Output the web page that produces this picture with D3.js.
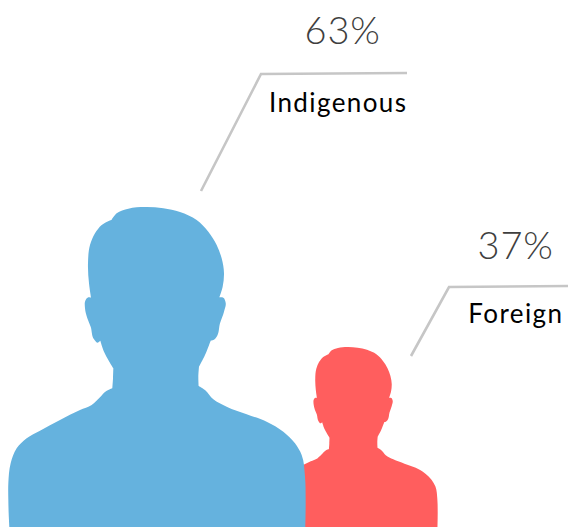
<!DOCTYPE html>
<html><head><meta charset="utf-8">
<script src="https://cdn.jsdelivr.net/npm/d3@7"></script>
<style>html,body{margin:0;padding:0;background:#fff}svg{display:block}</style>
</head><body><div id="c"></div>
<script>
const categories = ["Foreign", "Indigenous"];
const percents = [37, 63];
const colors = ["#ff5e5e", "#65b2de"];
const W = 568, H = 527;
// silhouette outline, template units (repeated points are sharp corners)
const outline = [[28,1011],[26,970],[25,930],[25,880],[32,820],[50,775],[80,745],[120,722],[180,690],[240,660],[275,645],[300,622],[318,604],[337,595],[337,595],[339,565],[340,535],[340,535],[325,510],[312,485],[301,452],[301,452],[292,458],[282,448],[272,410],[262,385],[255,355],[257,330],[265,322],[273,323],[273,323],[267,280],[264,220],[270,165],[285,130],[305,105],[335,89],[335,89],[350,70],[385,56],[435,51],[490,55],[540,66],[590,90],[625,125],[650,165],[665,205],[672,250],[668,290],[658,322],[658,322],[670,323],[677,338],[672,365],[660,400],[650,440],[640,450],[632,452],[632,452],[615,495],[597,530],[597,530],[595,560],[596,588],[596,588],[615,600],[640,628],[680,650],[740,673],[800,695],[850,725],[885,760],[905,795],[915,860],[917,930],[916,1011]];
// person position (template centre placed at), leader and label anchors
const centers = [353.5, 156];
const leaders = [[[411,356],[449,287],[568,286]], [[201,191],[261,74],[407,73]]];
const pctAnchor = [[553,259],[380,44]];
const nameAnchor = [[562,323],[406,112]];
const nameSpacing = 1.4, pctSpacing = 0.9;

const size = d3.scaleLinear().domain([37,63]).range([0.5625/3,1/3]);
const svg = d3.select("#c").append("svg").attr("width",W).attr("height",H);

categories.forEach((c,i)=>{
  const s = size(percents[i]);
  const x = d3.scaleLinear().domain([468,469]).range([centers[i],centers[i]+s]);
  const y = d3.scaleLinear().domain([1011,1010]).range([H,H-s]);
  const line = d3.line().x(d=>x(d[0])).y(d=>y(d[1])).curve(d3.curveCatmullRom.alpha(1));
  svg.append("path").attr("d",line(outline)+"Z").attr("fill",colors[i]);
  svg.append("path").attr("d",d3.line()(leaders[i])).attr("fill","none").attr("stroke","#c6c6c6").attr("stroke-width",2.6);
  svg.append("text").attr("x",pctAnchor[i][0]+pctSpacing).attr("y",pctAnchor[i][1]).attr("text-anchor","end")
    .attr("font-family","Lato").attr("font-weight",300).attr("font-size",38).attr("letter-spacing",pctSpacing).attr("fill","#3f3f3f").text(percents[i]+"%");
  svg.append("text").attr("x",nameAnchor[i][0]+nameSpacing).attr("y",nameAnchor[i][1]).attr("text-anchor","end")
    .attr("font-family","Lato").attr("font-size",26).attr("letter-spacing",nameSpacing).attr("fill","#000").text(c);
});
</script></body></html>
